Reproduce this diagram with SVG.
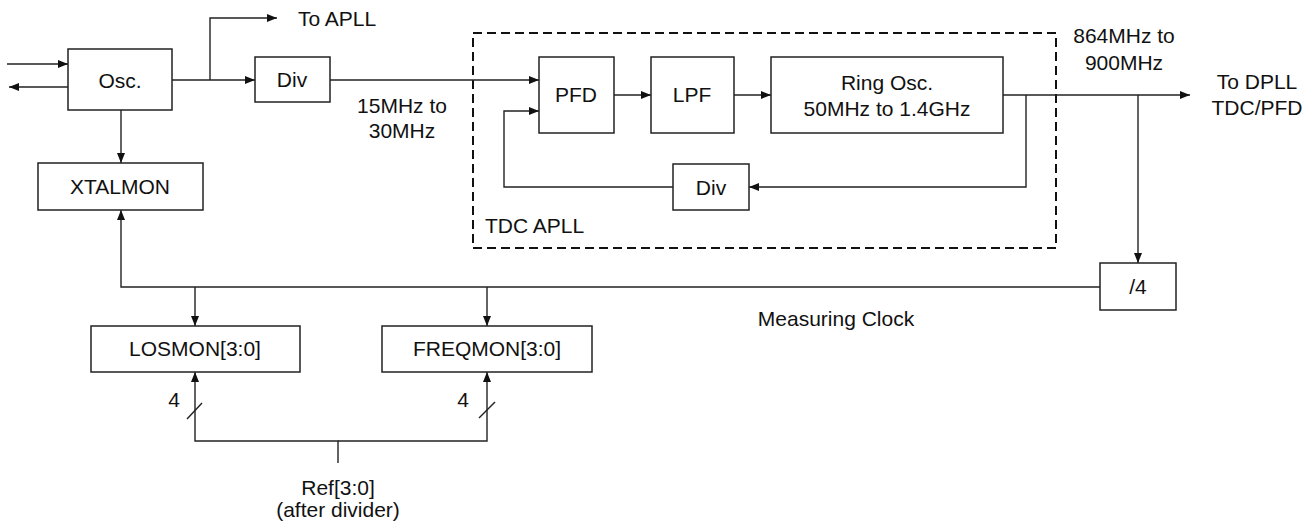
<svg xmlns="http://www.w3.org/2000/svg" width="1314" height="522" viewBox="0 0 1314 522">
<style>
.box{fill:#fff;stroke:#222;stroke-width:1.5}
.ln{fill:none;stroke:#222;stroke-width:1.4}
.arr{marker-end:url(#ah)}
.t{font-family:"Liberation Sans",Arial,sans-serif;font-size:21px;fill:#111;text-anchor:middle}
.tl{text-anchor:start}
.dash{fill:none;stroke:#111;stroke-width:2;stroke-dasharray:9 5}
</style>
<defs>
<marker id="ah" viewBox="0 0 10 10" refX="10" refY="5" markerWidth="10" markerHeight="10" markerUnits="userSpaceOnUse" orient="auto">
<path d="M0,1 L10,5 L0,9 Z" fill="#111"/>
</marker>
</defs>
<rect width="1314" height="522" fill="#fff"/>
<g id="tdc-apll-boundary">
<rect class="dash" x="473" y="33" width="583" height="215"/>
<text class="t tl" x="485" y="233">TDC APLL</text>
</g>
<g id="connectors">
<path class="ln arr" d="M7,64 H68"/>
<path class="ln arr" d="M68,87 H9"/>
<path class="ln arr" d="M172,80 H255"/>
<path class="ln arr" d="M210,80 V18 H277"/>
<path class="ln arr" d="M121,110 V163"/>
<path class="ln arr" d="M330,80 H539"/>
<path class="ln arr" d="M614,95 H651"/>
<path class="ln arr" d="M734,95 H771"/>
<path class="ln arr" d="M1003,95 H1190"/>
<path class="ln arr" d="M1026,95 V187 H749"/>
<path class="ln arr" d="M673,187 H504 V111 H539"/>
<path class="ln arr" d="M1138,95 V263"/>
<path class="ln arr" d="M1100,287 H121 V210"/>
<path class="ln arr" d="M195,287 V326"/>
<path class="ln arr" d="M487,287 V326"/>
<path class="ln arr" d="M338,463 V441 H195 V372"/>
<path class="ln arr" d="M338,441 H487 V372"/>
<path class="ln" d="M187,419 L202,403"/>
<path class="ln" d="M479,418 L495,402"/>
</g>
<g id="osc"><rect class="box" x="68" y="49" width="104" height="61"/><text class="t" x="120" y="88">Osc.</text></g>
<g id="div1"><rect class="box" x="255" y="57" width="75" height="45"/><text class="t" x="292" y="87">Div</text></g>
<g id="xtalmon"><rect class="box" x="38" y="163" width="165" height="47"/><text class="t" x="120" y="194">XTALMON</text></g>
<g id="pfd"><rect class="box" x="539" y="57" width="75" height="76"/><text class="t" x="576" y="102">PFD</text></g>
<g id="lpf"><rect class="box" x="651" y="57" width="83" height="76"/><text class="t" x="692" y="102">LPF</text></g>
<g id="ring-osc"><rect class="box" x="771" y="57" width="232" height="76"/><text class="t" x="887" y="90">Ring Osc.</text><text class="t" x="887" y="116">50MHz to 1.4GHz</text></g>
<g id="div2"><rect class="box" x="673" y="164" width="76" height="46"/><text class="t" x="711" y="195">Div</text></g>
<g id="div4"><rect class="box" x="1100" y="263" width="76" height="47"/><text class="t" x="1138" y="294">/4</text></g>
<g id="losmon"><rect class="box" x="91" y="326" width="209" height="46"/><text class="t" x="195" y="356">LOSMON[3:0]</text></g>
<g id="freqmon"><rect class="box" x="382" y="326" width="210" height="46"/><text class="t" x="487" y="356">FREQMON[3:0]</text></g>
<g id="labels">
<text class="t tl" x="298" y="26">To APLL</text>
<text class="t" x="402" y="113">15MHz to</text>
<text class="t" x="402" y="138">30MHz</text>
<text class="t" x="1124" y="43">864MHz to</text>
<text class="t" x="1124" y="70">900MHz</text>
<text class="t" x="1257" y="89">To DPLL</text>
<text class="t" x="1257" y="115">TDC/PFD</text>
<text class="t" x="836" y="326">Measuring Clock</text>
<text class="t" x="174" y="407">4</text>
<text class="t" x="463" y="407">4</text>
<text class="t" x="338" y="495">Ref[3:0]</text>
<text class="t" x="338" y="517">(after divider)</text>
</g>
</svg>
